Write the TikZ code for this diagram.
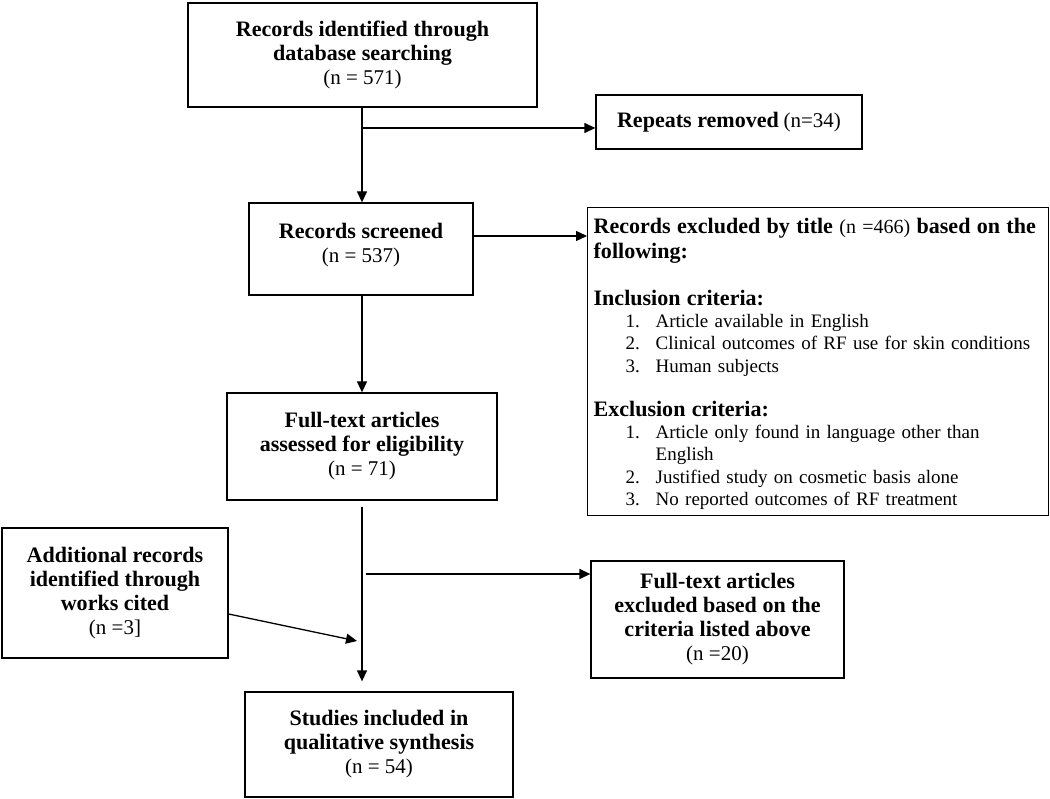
\documentclass[tikz,border=0pt]{standalone}
\usepackage{fontspec}
\setmainfont{Liberation Serif}[BoldFeatures={Scale=1.16}]
\usetikzlibrary{arrows.meta}

\newcommand{\critem}[1]{\hspace*{32pt}\makebox[30pt][l]{#1}}
\newcommand{\cnt}[1]{{\fontsize{21}{24}\selectfont #1}}

\begin{document}
\begin{tikzpicture}[x=1pt, y=-1pt, line width=1.3pt,
  every node/.style={align=center, font=\fontsize{19}{24}\selectfont},
  box/.style={draw, rectangle, inner sep=0pt},
  arr/.style={-{Triangle[length=11pt,width=10pt]}}]
\useasboundingbox (0,0) rectangle (1050,799);

% boxes
\node[box, minimum width=349, minimum height=104] (ident) at (362.5,55)
  {\textbf{Records identified through}\\ \textbf{database searching}\\ \cnt{(n = 571)}};
\node[box, minimum width=266, minimum height=54] (repeats) at (729,122)
  {\textbf{Repeats removed} \cnt{(n=34)}};
\node[box, minimum width=224, minimum height=92] (screened) at (361,249)
  {\textbf{Records screened}\\ \cnt{(n = 537)}\\[-12pt]\mbox{}};
\node[box, anchor=north west, text width=449, inner xsep=6, inner ysep=6,
  align=left, minimum height=307, font=\fontsize{19}{22.4}\selectfont] (titleexcl) at (587,207)
  {\rule{0pt}{20pt}\mbox{\textbf{Records excluded by title} {\fontsize{20}{22.4}\selectfont(n =466)} \textbf{based on the}}\\[2.6pt]
   \textbf{following:}\\[24pt]
   \textbf{Inclusion criteria:}\\
   \critem{1.}Article available in English\\
   \critem{2.}\mbox{Clinical outcomes of RF use for skin conditions}\\
   \critem{3.}Human subjects\\[21.5pt]
   \textbf{Exclusion criteria:}\\
   \critem{1.}Article only found in language other than\\
   \hspace*{62pt}English\\
   \critem{2.}Justified study on cosmetic basis alone\\
   \critem{3.}No reported outcomes of RF treatment};
\node[box, minimum width=270, minimum height=107] (fulltext) at (362,446.5)
  {\textbf{Full-text articles}\\ \textbf{assessed for eligibility}\\ \cnt{(n = 71)}};
\node[box, minimum width=226, minimum height=130] (additional) at (115,593)
  {\textbf{Additional records}\\ \textbf{identified through}\\ \textbf{works cited}\\ \cnt{(n =3]}};
\node[box, minimum width=253, minimum height=117] (ftexcl) at (717.5,619.5)
  {\textbf{Full-text articles}\\ \textbf{excluded based on the}\\ \textbf{criteria listed above}\\ \cnt{(n =20)}};
\node[box, minimum width=268, minimum height=105] (included) at (379,744.5)
  {\textbf{Studies included in}\\ \textbf{qualitative synthesis}\\ \cnt{(n = 54)}};

% connectors
\coordinate (split1) at (362,128);
\coordinate (split2) at (473,236);
\coordinate (split3) at (366,574);
\coordinate (join) at (357,641);
\draw[arr] (ident.south -| split1) -- (split1 |- screened.north);
\draw[arr] (split1) -- (split1 -| repeats.west);
\draw[arr] (split2) -- (split2 -| titleexcl.west);
\draw[arr] (screened.south -| split1) -- (split1 |- fulltext.north);
\draw[arr] ([yshift=-6pt]fulltext.south) -- ([yshift=10pt]fulltext.south |- included.north);
\draw[arr] (split3) -- (split3 -| ftexcl.west);
\draw[arr] ([yshift=-21pt]additional.east) -- (join);
\end{tikzpicture}
\end{document}
